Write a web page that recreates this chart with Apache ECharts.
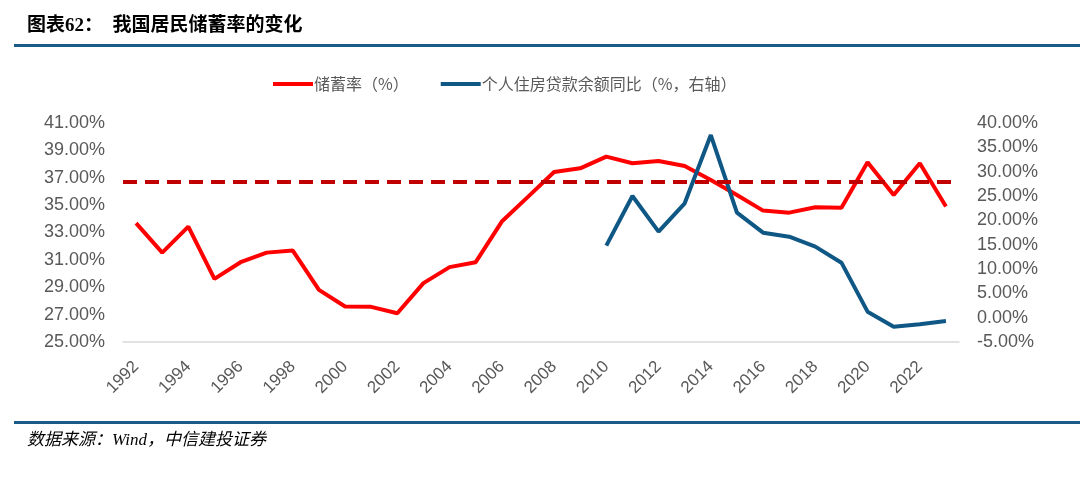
<!DOCTYPE html>
<html>
<head>
<meta charset="utf-8">
<script src="https://cdn.jsdelivr.net/npm/echarts@6/dist/echarts.min.js"></script>
<style>
html,body{margin:0;padding:0;background:#fff;}
#chart{width:1080px;height:477px;}
</style>
</head>
<body>
<div id="chart"></div>
<script>
var years = ['1992','1993','1994','1995','1996','1997','1998','1999','2000','2001','2002','2003','2004','2005','2006','2007','2008','2009','2010','2011','2012','2013','2014','2015','2016','2017','2018','2019','2020','2021','2022','2023'];
var savingRate = [33.68,31.53,33.43,29.61,30.83,31.53,31.68,28.81,27.59,27.57,27.10,29.30,30.47,30.83,33.80,35.60,37.42,37.69,38.54,38.06,38.23,37.86,36.84,35.74,34.60,34.45,34.84,34.80,38.13,35.74,38.06,34.90];
var loanGrowth = [null,null,null,null,null,null,null,null,null,null,null,null,null,null,null,null,null,null,14.8,25.0,17.67,23.5,37.53,21.58,17.46,16.64,14.6,11.3,1.23,-1.85,-1.37,-0.68];
var savingAvg = 36.69;
var leftTicks = {min:25, max:41, interval:2};
var rightTicks = {min:-5, max:40, interval:5};

var chart = echarts.init(document.getElementById('chart'));
var yFont = {color:'#595959', fontSize:18, fontFamily:'Liberation Sans, Arial, sans-serif'};
var xFont = {color:'#595959', fontSize:17, fontFamily:'Liberation Sans, Arial, sans-serif'};
chart.setOption({
  animation:false,
  backgroundColor:'#fff',
  graphic:[
    {type:'text', left:27, top:17, style:{text:'图表62：  我国居民储蓄率的变化', fontSize:19, fontWeight:'bold', fill:'#000', fontFamily:'Liberation Serif, Noto Sans CJK SC, serif'}},
    {type:'rect', shape:{x:14, y:44, width:1066, height:3}, style:{fill:'#1B5B87'}},
    {type:'rect', shape:{x:14, y:421, width:1066, height:3}, style:{fill:'#1B5B87'}},
    {type:'text', left:27, top:432, style:{text:'数据来源：Wind，中信建投证券', fontSize:17, fontStyle:'italic', fill:'#000', fontFamily:'Liberation Serif, Noto Sans CJK SC, serif'}}
  ],
  legend:{
    top:71, left:268,
    itemWidth:40, itemHeight:4, itemGap:32,
    textStyle:{color:'#595959', fontSize:16, fontFamily:'Noto Sans CJK SC, sans-serif', padding:[0,0,0,-4]},
    data:[{name:'储蓄率（%）', icon:'rect'},{name:'个人住房贷款余额同比（%，右轴）', icon:'rect'}]
  },
  grid:{left:123, right:121, top:123, bottom:135},
  xAxis:{
    type:'category', data:years, boundaryGap:true,
    axisLine:{onZero:false, lineStyle:{color:'#D9D9D9', width:1.5}},
    axisTick:{interval:1, length:5, lineStyle:{color:'#D9D9D9', width:1.5}},
    axisLabel:Object.assign({interval:1, rotate:45, margin:22}, xFont)
  },
  yAxis:[
    {type:'value', min:leftTicks.min, max:leftTicks.max, interval:leftTicks.interval,
     axisLine:{show:false}, axisTick:{show:false}, splitLine:{show:false},
     axisLabel:Object.assign({margin:18, formatter:function(v){return v.toFixed(2)+'%';}}, yFont)},
    {type:'value', min:rightTicks.min, max:rightTicks.max, interval:rightTicks.interval,
     axisLine:{show:false}, axisTick:{show:false}, splitLine:{show:false},
     axisLabel:Object.assign({margin:18, formatter:function(v){return v.toFixed(2)+'%';}}, yFont)}
  ],
  series:[
    {name:'储蓄率（%）', type:'line', data:savingRate, yAxisIndex:0, symbol:'none',
     lineStyle:{color:'#FF0000', width:4}, itemStyle:{color:'#FF0000'},
     markLine:{silent:true, symbol:'none', label:{show:false},
       lineStyle:{color:'#C00000', type:[14,8], width:4},
       data:[{yAxis:savingAvg}]}},
    {name:'个人住房贷款余额同比（%，右轴）', type:'line', data:loanGrowth, yAxisIndex:1, symbol:'none',
     lineStyle:{color:'#0F5785', width:4}, itemStyle:{color:'#0F5785'}}
  ]
});
</script>
</body>
</html>
